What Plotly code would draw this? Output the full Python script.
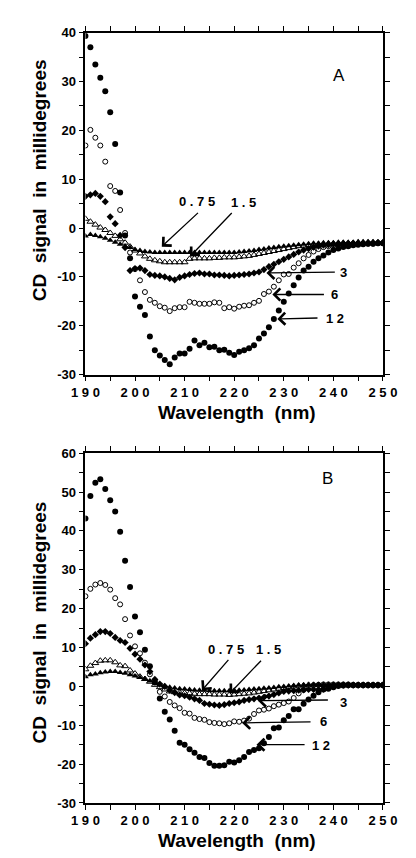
import plotly.graph_objects as go

# ---------------- data ----------------
wavelength = list(range(190, 251))

# Panel A (CD signal, millidegrees) by protein concentration
A_12 = [39.3, 37.0, 33.5, 30.8, 28.0, 23.7, 17.2, 7.3, -1.5, -6.2,
        -14.0, -16.1, -17.8, -22.2, -25.0, -26.1, -27.0, -27.9, -26.5, -25.7,
        -25.7, -24.7, -23.0, -24.0, -23.5, -24.4, -24.3, -25.0, -24.9, -25.5,
        -26.0, -25.3, -25.0, -24.6, -24.0, -22.6, -21.6, -20.3, -18.6, -16.9,
        -15.1, -13.4, -11.7, -10.1, -8.7, -7.9, -6.9, -6.2, -5.6, -5.0,
        -4.5, -4.2, -3.9, -3.7, -3.5, -3.4, -3.3, -3.2, -3.2, -3.1, -3.1]
A_6 = [16.9, 20.1, 18.5, 16.9, 13.6, 8.6, 7.6, 3.7, -1.0, -5.0,
       -8.4, -10.7, -13.1, -14.7, -15.3, -16.0, -16.3, -17.0, -16.4, -16.2,
       -16.2, -15.1, -15.3, -15.5, -15.5, -15.5, -15.2, -15.3, -16.4, -16.2,
       -16.5, -16.1, -15.9, -15.8, -15.3, -14.9, -13.5, -13.0, -12.0, -10.7,
       -9.5, -9.4, -8.1, -7.2, -6.2, -5.5, -4.8, -4.3, -3.9, -3.7,
       -3.5, -3.4, -3.4, -3.3, -3.3, -3.3, -3.2, -3.2, -3.2, -3.1, -3.1]
A_3 = [6.5, 6.8, 7.1, 6.5, 5.4, 2.3, 0.9, -1.5, -4.0, -8.7,
       -8.3, -8.2, -8.7, -9.5, -9.7, -9.8, -10.0, -10.3, -10.6, -10.1,
       -9.8, -9.5, -9.3, -9.2, -9.4, -9.4, -9.6, -9.6, -9.7, -9.8,
       -9.7, -9.6, -9.5, -9.4, -9.2, -9.0, -8.5, -7.9, -7.4, -6.9,
       -6.4, -5.9, -5.4, -4.9, -4.5, -4.2, -3.9, -3.7, -3.5, -3.4,
       -3.3, -3.3, -3.2, -3.2, -3.1, -3.1, -3.1, -3.0, -3.0, -3.0, -3.0]
A_1p5 = [1.9, 1.3, 0.7, 0.1, -0.4, -1.0, -1.6, -2.3, -3.0, -3.8,
         -4.6, -5.2, -5.8, -6.3, -6.6, -6.8, -7.0, -7.0, -7.0, -7.0,
         -7.0, -6.3, -6.2, -6.2, -6.2, -6.2, -6.1, -6.1, -6.0, -6.0,
         -6.0, -5.9, -5.8, -5.7, -5.5, -5.3, -5.1, -4.9, -4.7, -4.5,
         -4.3, -4.1, -3.9, -3.7, -3.6, -3.5, -3.4, -3.3, -3.3, -3.2,
         -3.2, -3.2, -3.1, -3.1, -3.1, -3.0, -3.0, -3.0, -3.0, -3.0, -3.0]
A_0p75 = [-1.6, -1.3, -1.5, -1.8, -2.1, -2.5, -2.9, -3.3, -3.7, -4.0,
          -4.4, -4.6, -4.8, -4.9, -5.0, -5.0, -5.0, -5.0, -5.0, -5.0,
          -5.0, -5.0, -5.0, -5.0, -5.0, -5.0, -5.0, -5.0, -5.0, -5.0,
          -5.0, -4.9, -4.8, -4.7, -4.6, -4.4, -4.3, -4.1, -4.0, -3.8,
          -3.7, -3.6, -3.5, -3.4, -3.3, -3.2, -3.1, -3.1, -3.0, -3.0,
          -3.0, -2.9, -2.9, -2.9, -2.9, -2.8, -2.8, -2.8, -2.8, -2.8, -2.8]

# Panel B
B_12 = [43.2, 49.0, 52.4, 53.3, 50.8, 47.9, 45.0, 39.8, 32.3, 25.6,
        18.0, 13.9, 9.4, 5.2, 1.0, -3.1, -6.5, -8.5, -11.4, -14.5,
        -15.0, -16.2, -17.1, -18.2, -18.4, -19.7, -20.4, -20.4, -20.3, -19.4,
        -19.6, -19.0, -18.2, -16.9, -16.4, -15.9, -14.6, -13.0, -10.8, -10.6,
        -8.7, -7.6, -5.9, -5.9, -4.5, -3.4, -2.4, -1.5, -0.8, -0.6,
        -0.2, 0.1, 0.2, 0.3, 0.3, 0.3, 0.3, 0.3, 0.3, 0.3, 0.3]
B_6 = [23.2, 25.1, 26.2, 26.6, 26.1, 24.9, 22.7, 21.1, 17.3, 13.1,
       10.3, 8.5, 6.1, 3.1, 1.5, -1.4, -2.6, -4.0, -4.9, -5.6,
       -6.8, -7.0, -8.1, -8.4, -8.6, -9.2, -9.4, -9.5, -9.7, -9.5,
       -9.0, -9.1, -8.8, -8.3, -7.1, -6.2, -6.0, -5.7, -5.1, -4.7,
       -4.3, -3.9, -3.0, -1.8, -0.9, -0.2, 0.3, 0.4, 0.5, 0.5,
       0.5, 0.5, 0.5, 0.5, 0.4, 0.4, 0.4, 0.4, 0.4, 0.4, 0.4]
B_3 = [11.0, 12.4, 13.3, 14.1, 14.1, 13.6, 12.6, 11.8, 11.3, 9.8,
       8.3, 7.0, 5.5, 3.8, 1.8, 0.6, 0.0, -1.0, -1.6, -2.2,
       -2.4, -2.8, -3.2, -3.6, -4.4, -4.6, -4.8, -4.9, -4.7, -4.4,
       -4.2, -4.0, -3.6, -3.4, -3.2, -3.0, -2.8, -2.5, -2.1, -1.7,
       -1.3, -1.2, -1.1, -1.0, -0.9, -0.8, -0.8, -0.8, -0.7, 0.0,
       0.3, 0.3, 0.3, 0.3, 0.3, 0.3, 0.3, 0.3, 0.3, 0.3, 0.3]
B_1p5 = [4.4, 5.3, 6.0, 6.6, 6.7, 6.7, 6.2, 5.4, 5.2, 4.1,
         3.3, 2.5, 1.9, 1.2, 0.4, -0.2, -0.8, -1.3, -1.5, -1.6,
         -1.7, -1.8, -1.9, -2.0, -2.0, -2.0, -2.1, -2.1, -2.1, -2.2,
         -2.1, -2.0, -1.9, -1.8, -1.6, -1.4, -1.2, -1.0, -0.8, -0.6,
         -0.4, -0.2, 0.0, 0.2, 0.3, 0.4, 0.4, 0.4, 0.4, 0.4,
         0.4, 0.4, 0.4, 0.4, 0.4, 0.4, 0.4, 0.4, 0.4, 0.4, 0.4]
B_0p75 = [2.5, 3.0, 3.2, 3.5, 3.7, 3.8, 3.8, 3.6, 3.4, 3.0,
          2.7, 2.3, 1.9, 1.4, 1.0, 0.5, 0.1, -0.2, -0.4, -0.6,
          -0.7, -0.8, -0.9, -1.0, -1.0, -1.1, -1.1, -1.1, -1.1, -1.1,
          -1.0, -1.0, -0.9, -0.8, -0.7, -0.6, -0.5, -0.4, -0.3, -0.1,
          0.0, 0.1, 0.2, 0.3, 0.3, 0.4, 0.4, 0.4, 0.4, 0.4,
          0.4, 0.4, 0.4, 0.4, 0.4, 0.4, 0.4, 0.4, 0.4, 0.4, 0.4]

x_tickvals = list(range(190, 251, 5))
x_ticktext = [" ".join(str(v)) if v % 10 == 0 else "" for v in x_tickvals]
yA_tickvals = list(range(-30, 41, 5))
yA_ticktext = [str(v) if v % 10 == 0 else "" for v in yA_tickvals]
yB_tickvals = list(range(-30, 61, 5))
yB_ticktext = [str(v) if v % 10 == 0 else "" for v in yB_tickvals]

# ---------------- figure ----------------
W, H = 416, 858
FONT = "Liberation Sans, Arial, sans-serif"

styles = [
    dict(symbol="circle", size=6, color="black"),
    dict(symbol="circle-open", size=5, color="black", line=dict(width=1, color="black")),
    dict(symbol="diamond", size=5.5, color="black"),
    dict(symbol="triangle-up-open", size=6, color="black", line=dict(width=1, color="black")),
    dict(symbol="triangle-up", size=6, color="black"),
]
names = ["12", "6", "3", "1.5", "0.75"]

fig = go.Figure()
for series, ax in [((A_12, A_6, A_3, A_1p5, A_0p75), ("x", "y")),
                   ((B_12, B_6, B_3, B_1p5, B_0p75), ("x2", "y2"))]:
    for vals, st, nm in list(zip(series, styles, names))[::-1]:
        fig.add_trace(go.Scatter(x=wavelength, y=vals, mode="markers", name=nm,
                                 marker=st, xaxis=ax[0], yaxis=ax[1],
                                 showlegend=False))

axis_common = dict(showline=True, linecolor="black", linewidth=1.6, mirror="ticks",
                   ticks="outside", ticklen=5, tickwidth=1.2, tickcolor="black",
                   showgrid=False, zeroline=False,
                   tickfont=dict(family=FONT, size=13, color="black", weight="bold"))

xd = [68 / W, 387 / W]
fig.update_layout(
    width=W, height=H, margin=dict(l=0, r=0, t=0, b=0),
    paper_bgcolor="white", plot_bgcolor="white",
    xaxis=dict(domain=xd, range=[190, 250], tickvals=x_tickvals, ticktext=x_ticktext,
               anchor="y", **axis_common),
    yaxis=dict(domain=[1 - 366 / H, 1 - 18 / H], range=[-30, 40], tickvals=yA_tickvals,
               ticktext=yA_ticktext, anchor="x", **axis_common),
    xaxis2=dict(domain=xd, range=[190, 250], tickvals=x_tickvals, ticktext=x_ticktext,
                anchor="y2", **axis_common),
    yaxis2=dict(domain=[1 - 802 / H, 1 - 446 / H], range=[-30, 60], tickvals=yB_tickvals,
                ticktext=yB_ticktext, anchor="x2", **axis_common),
)

ann = []
title_font = dict(family=FONT, size=19, color="black", weight="bold")
ytitle = "CD\u00a0 signal\u00a0 in\u00a0 millidegrees"
xtitle = "Wavelength\u00a0 (nm)"
for ycen, xcen_y in [(168.5, 405), (618.5, 840)]:
    ann.append(dict(text=ytitle, xref="paper", yref="paper", x=19 / W, y=1 - ycen / H,
                    textangle=-90, showarrow=False, font=title_font,
                    xanchor="center", yanchor="middle"))
    ann.append(dict(text=xtitle, xref="paper", yref="paper", x=230 / W, y=1 - xcen_y / H,
                    showarrow=False, font=title_font, xanchor="center", yanchor="middle"))

ann.append(dict(text="A", xref="paper", yref="paper", x=348 / W, y=1 - 50 / H, showarrow=False,
                font=dict(family=FONT, size=17, color="black")))
ann.append(dict(text="B", xref="paper", yref="paper", x=336 / W, y=1 - 472 / H, showarrow=False,
                font=dict(family=FONT, size=17, color="black")))

lab_font = dict(family=FONT, size=13, color="black", weight="bold")
# (label, label_x, label_y, tail_x, tail_y, tip_x, tip_y)
arrows_A = [("0 . 7 5", 212.6, 5.4, 213.0, 3.4, 205.4, -3.8),
            ("1 . 5", 221.8, 5.2, 219.8, 3.4, 211.1, -5.8),
            ("3", 242.0, -9.0, 240.6, -9.0, 226.5, -9.2),
            ("6", 240.3, -13.7, 238.4, -13.6, 227.7, -13.6),
            ("1 2", 240.3, -18.6, 237.1, -18.4, 228.7, -18.6)]
arrows_B = [("0 . 7 5", 218.3, 9.5, 219.1, 7.2, 213.5, -1.0),
            ("1 . 5", 226.9, 9.5, 225.7, 7.0, 219.1, -1.8),
            ("3", 242.0, -4.2, 239.2, -3.5, 224.8, -3.7),
            ("6", 238.0, -9.1, 235.7, -9.1, 221.6, -9.4),
            ("1 2", 237.6, -15.3, 234.5, -15.0, 224.5, -15.0)]
for arrows, xr, yr in [(arrows_A, "x", "y"), (arrows_B, "x2", "y2")]:
    for lab, lx, ly, tx, ty, px, py in arrows:
        ann.append(dict(text=lab, xref=xr, yref=yr, x=lx, y=ly, showarrow=False,
                        font=lab_font, xanchor="center", yanchor="middle"))
        ann.append(dict(text="", xref=xr, yref=yr, x=px, y=py, axref=xr, ayref=yr,
                        ax=tx, ay=ty, showarrow=True, arrowhead=4, arrowsize=1.8,
                        arrowwidth=1.3, arrowcolor="black"))

fig.update_layout(annotations=ann)
fig.write_html("out.html")
